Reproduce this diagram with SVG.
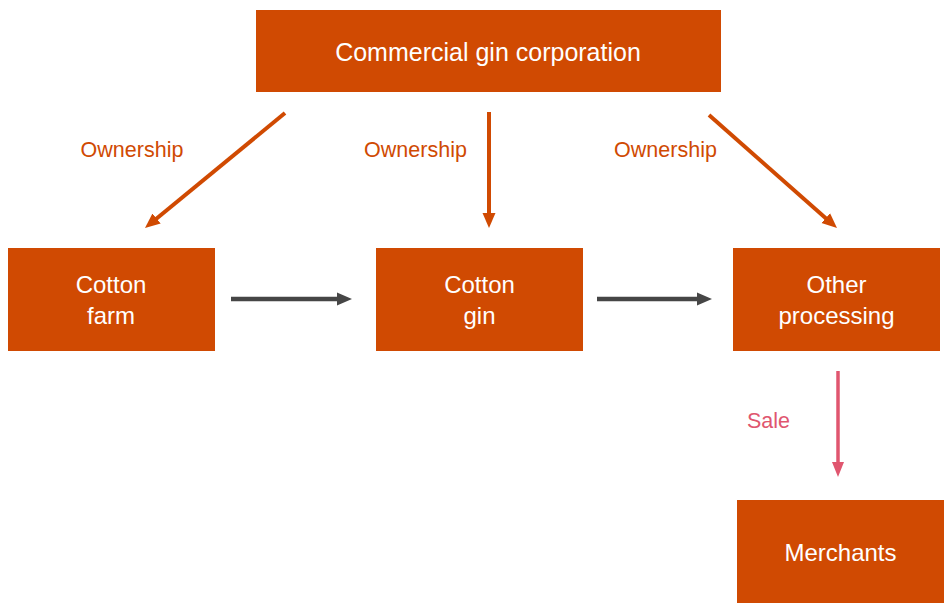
<svg xmlns="http://www.w3.org/2000/svg" width="944" height="603" viewBox="0 0 944 603">
<style>
.box{fill:#D04A02}
.nt{font-family:"Liberation Sans",Arial,sans-serif;fill:#FFFFFF;text-anchor:middle}
.lbl{font-family:"Liberation Sans",Arial,sans-serif;font-size:21.5px}
.own{stroke:#D04A02;stroke-width:4;fill:none}
.flow{stroke:#464646;stroke-width:4.5;fill:none}
.sale{stroke:#E0566F;stroke-width:3.5;fill:none}
</style>
<defs>
<marker id="ahO" markerUnits="userSpaceOnUse" markerWidth="16" markerHeight="16" viewBox="0 0 16 16" refX="5" refY="8" orient="auto"><path d="M0,1.5 L15,8 L0,14.5 Z" fill="#D04A02"/></marker>
<marker id="ahG" markerUnits="userSpaceOnUse" markerWidth="16" markerHeight="16" viewBox="0 0 16 16" refX="5" refY="8" orient="auto"><path d="M0,1.5 L15,8 L0,14.5 Z" fill="#464646"/></marker>
<marker id="ahS" markerUnits="userSpaceOnUse" markerWidth="16" markerHeight="16" viewBox="0 0 16 16" refX="5" refY="8" orient="auto"><path d="M0,2 L15,8 L0,14 Z" fill="#E0566F"/></marker>
</defs>
<rect width="944" height="603" fill="#FFFFFF"/>
<g id="connectors">
<line class="own" x1="285" y1="113" x2="152.7" y2="221.7" marker-end="url(#ahO)"/>
<line class="own" x1="489" y1="112" x2="489" y2="218" marker-end="url(#ahO)"/>
<line class="own" x1="709" y1="115" x2="829.5" y2="221.4" marker-end="url(#ahO)"/>
<line class="flow" x1="231" y1="299" x2="342" y2="299" marker-end="url(#ahG)"/>
<line class="flow" x1="597" y1="299" x2="702" y2="299" marker-end="url(#ahG)"/>
<line class="sale" x1="838" y1="371" x2="838" y2="467" marker-end="url(#ahS)"/>
<text class="lbl" x="132" y="157" text-anchor="middle" fill="#D04A02">Ownership</text>
<text class="lbl" x="415.5" y="157" text-anchor="middle" fill="#D04A02">Ownership</text>
<text class="lbl" x="665.5" y="157" text-anchor="middle" fill="#D04A02">Ownership</text>
<text class="lbl" x="768.5" y="428" text-anchor="middle" fill="#E0566F">Sale</text>
</g>
<g id="node-corp">
<rect class="box" x="256" y="10" width="465" height="82"/>
<text class="nt" x="488" y="60.5" font-size="25">Commercial gin corporation</text>
</g>
<g id="node-farm">
<rect class="box" x="8" y="248" width="207" height="103"/>
<text class="nt" x="111" y="293" font-size="24">Cotton</text>
<text class="nt" x="111" y="323.5" font-size="24">farm</text>
</g>
<g id="node-gin">
<rect class="box" x="376" y="248" width="207" height="103"/>
<text class="nt" x="479.5" y="293" font-size="24">Cotton</text>
<text class="nt" x="479.5" y="323.5" font-size="24">gin</text>
</g>
<g id="node-other">
<rect class="box" x="733" y="248" width="207" height="103"/>
<text class="nt" x="836.5" y="293" font-size="24">Other</text>
<text class="nt" x="836.5" y="323.5" font-size="24">processing</text>
</g>
<g id="node-merchants">
<rect class="box" x="737" y="500" width="207" height="103"/>
<text class="nt" x="840.5" y="561" font-size="24">Merchants</text>
</g>
</svg>
